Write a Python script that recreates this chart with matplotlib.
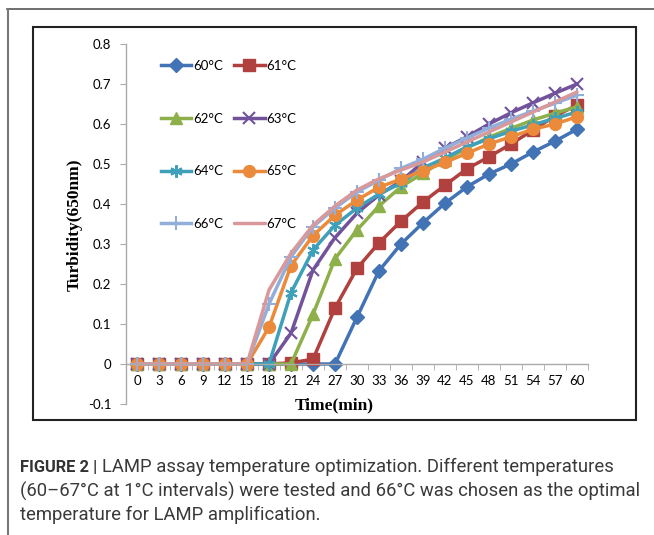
import matplotlib
matplotlib.use("Agg")
import matplotlib.pyplot as plt
from matplotlib.lines import Line2D
import numpy as np

times = list(range(0, 61, 3))
labels = ["60°C", "61°C", "62°C", "63°C", "64°C", "65°C", "66°C", "67°C"]
s60 = [0]*10 + [0.117, 0.233, 0.30, 0.353, 0.402, 0.443, 0.475, 0.50, 0.53, 0.557, 0.587]
s61 = [0]*7 + [0.003, 0.012, 0.14, 0.239, 0.303, 0.357, 0.405, 0.447, 0.488, 0.518, 0.55, 0.585, 0.62, 0.647]
s62 = [0]*8 + [0.124, 0.263, 0.335, 0.395, 0.443, 0.477, 0.51, 0.54, 0.567, 0.589, 0.61, 0.627, 0.643]
s63 = [0]*7 + [0.077, 0.235, 0.316, 0.377, 0.423, 0.457, 0.505, 0.54, 0.568, 0.60, 0.628, 0.653, 0.677, 0.70]
s64 = [0]*7 + [0.178, 0.285, 0.347, 0.39, 0.425, 0.452, 0.49, 0.515, 0.543, 0.563, 0.582, 0.598, 0.614, 0.63]
s65 = [0]*6 + [0.092, 0.246, 0.321, 0.372, 0.41, 0.442, 0.462, 0.483, 0.504, 0.527, 0.55, 0.568, 0.587, 0.60, 0.618]
s66 = [0]*6 + [0.15, 0.268, 0.343, 0.39, 0.43, 0.46, 0.489, 0.512, 0.54, 0.565, 0.59, 0.612, 0.632, 0.652, 0.672]
s67 = [0]*6 + [0.185, 0.277, 0.347, 0.395, 0.435, 0.463, 0.485, 0.505, 0.53, 0.555, 0.58, 0.605, 0.63, 0.655, 0.68]
series = [s60, s61, s62, s63, s64, s65, s66, s67]
yticks = [-0.1, 0, 0.1, 0.2, 0.3, 0.4, 0.5, 0.6, 0.7, 0.8]
ytick_labels = ["-0.1", "0", "0.1", "0.2", "0.3", "0.4", "0.5", "0.6", "0.7", "0.8"]

colors = ["#4273B5", "#B0413E", "#8DB04A", "#72529A", "#3FA0BA", "#EB8A3A", "#92AFDC", "#D9989A"]
markers = ["D", "s", "^", "x", (6, 2, 0), "o", "+", None]
msizes = [7, 8.5, 8.5, 9, 9, 8.5, 10, 0]

fig = plt.figure(figsize=(6.54, 5.35), dpi=100)
W, H = 654, 535

# frames
fig.add_artist(Line2D([7/W, 1.0], [1-9/H, 1-9/H], color="#555555", lw=1.2))
fig.add_artist(Line2D([8/W, 8/W], [1-9/H, 0], color="#777777", lw=1.5))
fig.add_artist(plt.Rectangle((33/W, 1-420/H), (636-33)/W, (420-27)/H, fill=False,
                             edgecolor="#222222", lw=1.5, transform=fig.transFigure))

ax = fig.add_axes([126/W, 1-404/H, (588-126)/W, (404-44)/H])
tick_font = "Lato"
handles = []
for s, lab, c, m, ms in zip(series, labels, colors, markers, msizes):
    if m is None:
        h, = ax.plot(times, s, color=c, lw=2.5, label=lab, solid_capstyle="round")
    else:
        thin = m in ("x", "+") or isinstance(m, tuple)
        h, = ax.plot(times, s, color=c, lw=2.5, marker=m, markersize=ms, label=lab,
                     markeredgecolor=c, markeredgewidth=1.5 if thin else 1.0)
    handles.append(h)

ax.set_xlim(-1.5, 61.5)
ax.set_ylim(-0.1, 0.8)
for sp in ["top", "right"]:
    ax.spines[sp].set_visible(False)
ax.spines["bottom"].set_position(("data", 0))
ax.spines["left"].set_color("#AAAAAA")
ax.spines["bottom"].set_color("#AAAAAA")
ax.spines["left"].set_linewidth(1.0)
ax.spines["bottom"].set_linewidth(1.0)

ax.set_xticks(times)
ax.set_xticklabels([str(t) for t in times], fontfamily=tick_font, fontsize=9.5)
ax.set_xticks(np.arange(-1.5, 62, 3), minor=True)
ax.tick_params(axis="x", which="major", length=0, pad=8)
ax.tick_params(axis="x", which="minor", length=4, color="#AAAAAA", direction="out")
ax.set_yticks(yticks)
ax.set_yticklabels(ytick_labels, fontfamily=tick_font, fontsize=9.5)
ax.tick_params(axis="y", length=4, color="#AAAAAA", pad=6.5)

fig.text(75/W, 1-225/H, "Turbidity(650nm)", rotation=90, ha="center", va="center",
         fontfamily="Liberation Serif", fontweight="bold", fontsize=12.5)
fig.text(334/W, 1-405/H, "Time(min)", ha="center", va="center",
         fontfamily="Liberation Serif", fontweight="bold", fontsize=12.5)

# legend: row-wise order for 2 columns
order = [0, 2, 4, 6, 1, 3, 5, 7]
leg = ax.legend([handles[i] for i in order], [labels[i] for i in order],
                ncol=2, loc="upper left", bbox_to_anchor=(0.061, 0.974), frameon=False,
                borderpad=0, labelspacing=3.08, handlelength=2.3, handletextpad=0.15,
                columnspacing=0.85, prop={"family": tick_font, "size": 9.5})

# caption
cap_font = "Roboto"
cap_y = [467, 491, 515]
t0 = fig.text(20/W, 1-cap_y[0]/H, "FIGURE 2 |", fontfamily=cap_font, fontweight="bold",
              fontsize=11.5, color="#333333", va="center")
t1 = fig.text(102/W, 1-cap_y[0]/H, "LAMP assay temperature optimization. Different temperatures",
              fontfamily=cap_font, fontsize=11.5, color="#3a3a3a", va="center")
t2 = fig.text(20/W, 1-cap_y[1]/H, "(60–67°C at 1°C intervals) were tested and 66°C was chosen as the optimal",
              fontfamily=cap_font, fontsize=11.5, color="#3a3a3a", va="center")
t3 = fig.text(20/W, 1-cap_y[2]/H, "temperature for LAMP amplification.",
              fontfamily=cap_font, fontsize=11.5, color="#3a3a3a", va="center")

# fit caption widths to reference
r = fig.canvas.get_renderer()
w2 = t2.get_window_extent(r).width
fs = 11.5 * 620 / w2
for t in (t1, t2, t3):
    t.set_fontsize(fs)
w0 = t0.get_window_extent(r).width
t0.set_fontsize(11.5 * 78 / w0)

fig.savefig("out.png", dpi=100)
